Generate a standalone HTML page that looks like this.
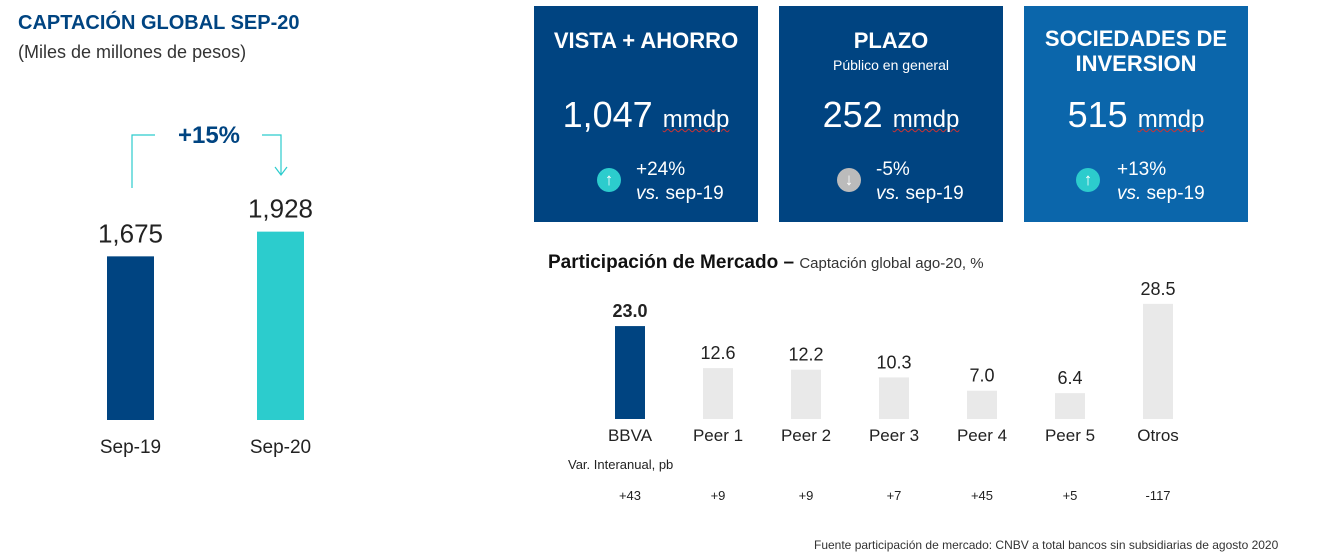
<!DOCTYPE html>
<html><head><meta charset="utf-8"><style>
body{margin:0;width:1329px;height:555px;background:#fff;font-family:"Liberation Sans",sans-serif;overflow:hidden;position:relative}
.abs{position:absolute}
.box{position:absolute;top:6px;width:224px;height:216px;color:#fff;text-align:center}
.bt{font-weight:bold;font-size:22px;line-height:25px}
.big{position:absolute;left:0;right:0;top:88px;font-size:36px;font-weight:300}
.big span{font-size:24px;text-decoration:underline wavy #c33;text-decoration-thickness:1px}
.chg{position:absolute;top:152px;left:0;right:0}
.ic{position:absolute;width:24px;height:24px;border-radius:50%;top:10px;font-size:17px;line-height:24px;text-align:center;color:#fff}
.ct{position:absolute;text-align:left;font-size:19px;line-height:24px}
</style></head><body>
<div class="abs" style="left:18px;top:12px;font-size:20px;font-weight:bold;color:#004481">CAPTACIÓN GLOBAL SEP-20</div>
<div class="abs" style="left:18px;top:42px;font-size:18px;color:#333">(Miles de millones de pesos)</div>
<svg class="abs" style="left:0;top:0" width="520" height="555" id="left">
<path d="M132 188 V135 H155 M262 135 H281 V175 M275 167 L281 175 L287 167" stroke="#2ccccd" fill="none" stroke-width="1.2"/>
<text x="209" y="143" text-anchor="middle" font-size="24" font-weight="bold" fill="#004481">+15%</text>
</svg>
<div class="box" style="left:534px;background:#004481">
<div class="bt" style="margin-top:22px">VISTA + AHORRO</div>
<div class="big">1,047 <span>mmdp</span></div>
<div class="chg"><div class="ic" style="left:63px;background:#2ccccd">↑</div><div class="ct" style="left:102px">+24%<br><i>vs.</i> sep-19</div></div>
</div>
<div class="box" style="left:779px;background:#004481">
<div class="bt" style="margin-top:22px">PLAZO</div>
<div style="font-size:14px;margin-top:4px">Público en general</div>
<div class="big">252 <span>mmdp</span></div>
<div class="chg"><div class="ic" style="left:58px;background:#bbb">↓</div><div class="ct" style="left:97px">-5%<br><i>vs.</i> sep-19</div></div>
</div>
<div class="box" style="left:1024px;background:#0b66ab">
<div class="bt" style="margin-top:20px">SOCIEDADES DE<br>INVERSION</div>
<div class="big">515 <span>mmdp</span></div>
<div class="chg"><div class="ic" style="left:52px;background:#2ccccd">↑</div><div class="ct" style="left:93px">+13%<br><i>vs.</i> sep-19</div></div>
</div>
<div class="abs" style="left:548px;top:252px;font-size:19px;font-weight:bold;color:#111">Participación de Mercado – <span style="font-size:15px;font-weight:normal;color:#333">Captación global ago-20, %</span></div>
<svg class="abs" style="left:0;top:0" width="1329" height="555" id="mk"></svg>
<div class="abs" style="left:814px;top:538px;font-size:12px;color:#333">Fuente participación de mercado: CNBV a total bancos sin subsidiarias de agosto 2020</div>
<script>
const gCats=["Sep-19","Sep-20"];
const gVals=[1675,1928];
const gLabels=["1,675","1,928"];
const mCats=["BBVA","Peer 1","Peer 2","Peer 3","Peer 4","Peer 5","Otros"];
const mVals=[23.0,12.6,12.2,10.3,7.0,6.4,28.5];
const mVar=["+43","+9","+9","+7","+45","+5","-117"];
const NS="http://www.w3.org/2000/svg";
function mk(p,t,a,txt){const e=document.createElementNS(NS,t);for(const k in a)e.setAttribute(k,a[k]);if(txt!=null)e.textContent=txt;p.appendChild(e);return e;}
const L=document.getElementById('left');
const gx=i=>130.5+i*150, gy=v=>420-v*0.0977;
gVals.forEach((v,i)=>{
 const b=mk(L,'rect',{x:gx(i)-23.5,y:gy(v),width:47,height:420-gy(v),fill:i?'#2ccccd':'#004481'});
 
 
 const t=mk(L,'text',{x:gx(i),y:gy(v)-14,'text-anchor':'middle','font-size':26,fill:'#222'},gLabels[i]);
 
 
 const c=mk(L,'text',{x:gx(i),y:453,'text-anchor':'middle','font-size':19,fill:'#222'},gCats[i]);
 
 
});
const M=document.getElementById('mk');
const mx=i=>630+i*88, my=v=>419-v*4.04;
mVals.forEach((v,i)=>{
 const b=mk(M,'rect',{x:mx(i)-15,y:my(v),width:30,height:419-my(v),fill:i?'#e9e9e9':'#004481'});
 
 
 const t=mk(M,'text',{x:mx(i),y:my(v)-9,'text-anchor':'middle','font-size':18,fill:'#222','font-weight':i?'normal':'bold'},v.toFixed(1));
 
 
 const c=mk(M,'text',{x:mx(i),y:441,'text-anchor':'middle','font-size':17,fill:'#222'},mCats[i]);
 
 
 const d=mk(M,'text',{x:mx(i),y:500,'text-anchor':'middle','font-size':13,fill:'#222'},mVar[i]);
 
 
});
const vt=mk(M,'text',{x:568,y:469,'font-size':13,fill:'#222'},'Var. Interanual, pb');


</script>
</body></html>
